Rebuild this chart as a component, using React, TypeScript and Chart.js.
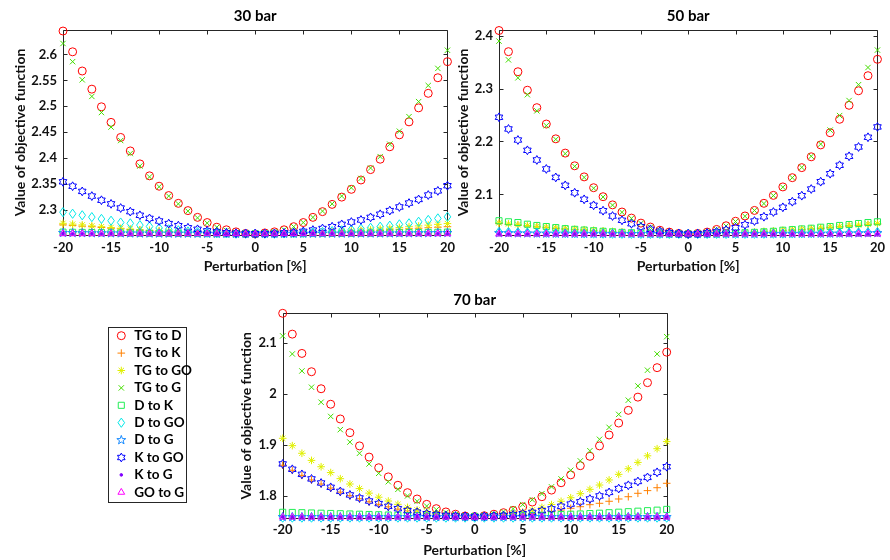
import React, { useEffect, useRef } from 'react';
import { Chart, registerables } from 'chart.js';
import { drawPoint } from 'chart.js/helpers';

Chart.register(...registerables);

// ---------------- data ----------------
const perturbation = [-20, -19, -18, -17, -16, -15, -14, -13, -12, -11, -10, -9, -8, -7, -6, -5, -4, -3, -2, -1, 0, 1, 2, 3, 4, 5, 6, 7, 8, 9, 10, 11, 12, 13, 14, 15, 16, 17, 18, 19, 20];
const xTicks = [-20, -15, -10, -5, 0, 5, 10, 15, 20];
const yTicks30 = [2.3, 2.35, 2.4, 2.45, 2.5, 2.55, 2.6];
const yTicks50 = [2.1, 2.2, 2.3, 2.4];
const yTicks70 = [1.8, 1.9, 2, 2.1];
const seriesNames = ['TG to D', 'TG to K', 'TG to GO', 'TG to G', 'D to K', 'D to GO', 'D to G', 'K to GO', 'K to G', 'GO to G'];

// 30 bar
const tgD30 = [2.645, 2.605, 2.568, 2.533, 2.499, 2.469, 2.440, 2.414, 2.389, 2.366, 2.346, 2.328, 2.313, 2.299, 2.286, 2.276, 2.267, 2.262, 2.258, 2.255, 2.254, 2.256, 2.258, 2.262, 2.268, 2.276, 2.286, 2.297, 2.311, 2.325, 2.340, 2.358, 2.378, 2.398, 2.422, 2.445, 2.470, 2.497, 2.525, 2.555, 2.586];
const tgK30 = [2.2715, 2.2705, 2.269, 2.268, 2.2665, 2.265, 2.264, 2.2625, 2.2615, 2.2605, 2.2595, 2.2585, 2.2575, 2.257, 2.2562, 2.2556, 2.2552, 2.255, 2.2547, 2.2545, 2.2545, 2.2545, 2.2547, 2.255, 2.2552, 2.2555, 2.256, 2.2565, 2.257, 2.2578, 2.2585, 2.2592, 2.26, 2.261, 2.262, 2.263, 2.264, 2.265, 2.266, 2.267, 2.268];
const tgGO30 = [2.2745, 2.273, 2.2715, 2.2695, 2.268, 2.2665, 2.265, 2.2635, 2.262, 2.261, 2.26, 2.259, 2.258, 2.257, 2.2562, 2.2556, 2.2552, 2.255, 2.2547, 2.2545, 2.2545, 2.2545, 2.2547, 2.255, 2.2552, 2.2556, 2.2562, 2.257, 2.258, 2.259, 2.26, 2.261, 2.262, 2.2635, 2.265, 2.2665, 2.268, 2.2695, 2.271, 2.2725, 2.274];
const tgG30 = [2.621, 2.586, 2.551, 2.519, 2.488, 2.460, 2.434, 2.409, 2.385, 2.364, 2.345, 2.327, 2.312, 2.298, 2.285, 2.275, 2.267, 2.261, 2.257, 2.255, 2.254, 2.255, 2.258, 2.262, 2.268, 2.276, 2.286, 2.298, 2.312, 2.327, 2.343, 2.361, 2.381, 2.403, 2.427, 2.452, 2.480, 2.509, 2.540, 2.573, 2.608];
const dK30 = [2.2575, 2.2572, 2.257, 2.2567, 2.2565, 2.2562, 2.256, 2.2558, 2.2556, 2.2554, 2.2552, 2.2551, 2.255, 2.2549, 2.2548, 2.2547, 2.2546, 2.2546, 2.2545, 2.2545, 2.2545, 2.2545, 2.2545, 2.2546, 2.2546, 2.2547, 2.2548, 2.2549, 2.255, 2.2551, 2.2552, 2.2554, 2.2556, 2.2558, 2.256, 2.2562, 2.2565, 2.2567, 2.257, 2.2572, 2.2575];
const dGO30 = [2.296, 2.293, 2.290, 2.2865, 2.283, 2.2795, 2.276, 2.2745, 2.271, 2.2685, 2.2655, 2.263, 2.261, 2.259, 2.2575, 2.2565, 2.2555, 2.255, 2.2545, 2.2545, 2.2545, 2.2545, 2.2545, 2.255, 2.2555, 2.256, 2.257, 2.258, 2.2595, 2.261, 2.2625, 2.264, 2.266, 2.268, 2.270, 2.2725, 2.2745, 2.2775, 2.281, 2.284, 2.287];
const dG30 = [2.256, 2.2558, 2.2556, 2.2555, 2.2554, 2.2553, 2.2552, 2.2551, 2.255, 2.255, 2.2549, 2.2548, 2.2547, 2.2547, 2.2546, 2.2546, 2.2545, 2.2545, 2.2545, 2.2545, 2.2545, 2.2545, 2.2545, 2.2545, 2.2545, 2.2546, 2.2546, 2.2547, 2.2547, 2.2548, 2.2549, 2.255, 2.255, 2.2551, 2.2552, 2.2553, 2.2554, 2.2555, 2.2556, 2.2558, 2.256];
const kGO30 = [2.3545, 2.346, 2.336, 2.327, 2.319, 2.312, 2.304, 2.297, 2.290, 2.284, 2.279, 2.274, 2.270, 2.266, 2.263, 2.260, 2.258, 2.2565, 2.2555, 2.255, 2.2545, 2.2547, 2.255, 2.256, 2.257, 2.259, 2.2615, 2.2645, 2.268, 2.2725, 2.277, 2.281, 2.286, 2.292, 2.299, 2.306, 2.3135, 2.3205, 2.329, 2.337, 2.347];
const kG30 = [2.2545, 2.2545, 2.2545, 2.2545, 2.2545, 2.2545, 2.2545, 2.2545, 2.2545, 2.2545, 2.2545, 2.2545, 2.2545, 2.2545, 2.2545, 2.2545, 2.2545, 2.2545, 2.2545, 2.2545, 2.2545, 2.2545, 2.2545, 2.2545, 2.2545, 2.2545, 2.2545, 2.2545, 2.2545, 2.2545, 2.2545, 2.2545, 2.2545, 2.2545, 2.2545, 2.2545, 2.2545, 2.2545, 2.2545, 2.2545, 2.2545];
const goG30 = [2.2544, 2.2544, 2.2544, 2.2544, 2.2544, 2.2544, 2.2544, 2.2544, 2.2544, 2.2544, 2.2544, 2.2544, 2.2544, 2.2544, 2.2544, 2.2544, 2.2544, 2.2544, 2.2544, 2.2544, 2.2544, 2.2544, 2.2544, 2.2544, 2.2544, 2.2544, 2.2544, 2.2544, 2.2544, 2.2544, 2.2544, 2.2544, 2.2544, 2.2544, 2.2544, 2.2544, 2.2544, 2.2544, 2.2544, 2.2544, 2.2544];

// 50 bar
const tgD50 = [2.410, 2.370, 2.332, 2.297, 2.264, 2.233, 2.205, 2.178, 2.154, 2.133, 2.1125, 2.0955, 2.080, 2.0665, 2.055, 2.0455, 2.038, 2.032, 2.0285, 2.026, 2.025, 2.026, 2.0285, 2.0335, 2.0405, 2.049, 2.059, 2.0695, 2.083, 2.098, 2.114, 2.1315, 2.1505, 2.171, 2.1935, 2.2165, 2.242, 2.2685, 2.296, 2.3245, 2.3555];
const tgK50 = [2.0445, 2.0428, 2.0413, 2.0398, 2.0383, 2.0368, 2.0354, 2.0341, 2.033, 2.032, 2.031, 2.030, 2.029, 2.028, 2.0272, 2.0265, 2.0259, 2.0255, 2.0252, 2.025, 2.025, 2.025, 2.0252, 2.0255, 2.0259, 2.0265, 2.0272, 2.028, 2.029, 2.030, 2.031, 2.032, 2.033, 2.0341, 2.0354, 2.0368, 2.0383, 2.0398, 2.041, 2.0422, 2.0435];
const tgGO50 = [2.046, 2.044, 2.0425, 2.041, 2.0395, 2.038, 2.0365, 2.035, 2.034, 2.033, 2.032, 2.031, 2.030, 2.029, 2.028, 2.027, 2.0263, 2.0257, 2.0253, 2.025, 2.025, 2.025, 2.0253, 2.0257, 2.0263, 2.027, 2.028, 2.029, 2.030, 2.031, 2.032, 2.033, 2.034, 2.035, 2.0365, 2.038, 2.0395, 2.041, 2.042, 2.0435, 2.045];
const tgG50 = [2.390, 2.3545, 2.3205, 2.2885, 2.258, 2.230, 2.204, 2.177, 2.153, 2.132, 2.1115, 2.095, 2.0795, 2.066, 2.0545, 2.045, 2.0375, 2.0315, 2.028, 2.0258, 2.025, 2.026, 2.0285, 2.033, 2.040, 2.0485, 2.0585, 2.0695, 2.0825, 2.0975, 2.1135, 2.1315, 2.151, 2.172, 2.195, 2.2215, 2.249, 2.2775, 2.3075, 2.340, 2.373];
const dK50 = [2.050, 2.048, 2.0466, 2.0434, 2.041, 2.039, 2.037, 2.035, 2.0337, 2.0324, 2.031, 2.030, 2.029, 2.028, 2.0272, 2.0265, 2.026, 2.0255, 2.0252, 2.025, 2.025, 2.025, 2.0252, 2.0255, 2.026, 2.0265, 2.0272, 2.028, 2.029, 2.030, 2.032, 2.0332, 2.0345, 2.0358, 2.0377, 2.039, 2.041, 2.0428, 2.0447, 2.0466, 2.048];
const dGO50 = [2.029, 2.0286, 2.0282, 2.0278, 2.0274, 2.027, 2.0267, 2.0264, 2.0261, 2.0259, 2.0257, 2.0255, 2.0254, 2.0253, 2.0252, 2.0251, 2.025, 2.025, 2.025, 2.025, 2.025, 2.025, 2.025, 2.025, 2.025, 2.0251, 2.0252, 2.0253, 2.0254, 2.0255, 2.0257, 2.0259, 2.0261, 2.0264, 2.0267, 2.027, 2.0273, 2.0276, 2.0279, 2.0282, 2.0285];
const dG50 = [2.0266, 2.0264, 2.0262, 2.026, 2.0258, 2.0257, 2.0256, 2.0255, 2.0254, 2.0253, 2.0252, 2.0252, 2.0251, 2.0251, 2.025, 2.025, 2.025, 2.025, 2.025, 2.025, 2.025, 2.025, 2.025, 2.025, 2.025, 2.025, 2.025, 2.0251, 2.0251, 2.0252, 2.0252, 2.0253, 2.0254, 2.0255, 2.0256, 2.0257, 2.0258, 2.026, 2.0262, 2.0264, 2.0266];
const kGO50 = [2.2458, 2.2237, 2.2028, 2.1833, 2.165, 2.148, 2.132, 2.117, 2.103, 2.0905, 2.0792, 2.069, 2.0589, 2.0508, 2.0443, 2.0387, 2.0337, 2.030, 2.0275, 2.026, 2.025, 2.0255, 2.027, 2.029, 2.0324, 2.0367, 2.0424, 2.0494, 2.0576, 2.0665, 2.0754, 2.086, 2.0974, 2.110, 2.1239, 2.139, 2.155, 2.172, 2.1896, 2.208, 2.2275];
const kG50 = [2.025, 2.025, 2.025, 2.025, 2.025, 2.025, 2.025, 2.025, 2.025, 2.025, 2.025, 2.025, 2.025, 2.025, 2.025, 2.025, 2.025, 2.025, 2.025, 2.025, 2.025, 2.025, 2.025, 2.025, 2.025, 2.025, 2.025, 2.025, 2.025, 2.025, 2.025, 2.025, 2.025, 2.025, 2.025, 2.025, 2.025, 2.025, 2.025, 2.025, 2.025];
const goG50 = [2.0248, 2.0248, 2.0248, 2.0248, 2.0248, 2.0248, 2.0248, 2.0248, 2.0248, 2.0248, 2.0248, 2.0248, 2.0248, 2.0248, 2.0248, 2.0248, 2.0248, 2.0248, 2.0248, 2.0248, 2.0248, 2.0248, 2.0248, 2.0248, 2.0248, 2.0248, 2.0248, 2.0248, 2.0248, 2.0248, 2.0248, 2.0248, 2.0248, 2.0248, 2.0248, 2.0248, 2.0248, 2.0248, 2.0248, 2.0248, 2.0248];

// 70 bar
const tgD70 = [2.159, 2.118, 2.080, 2.044, 2.0105, 1.980, 1.951, 1.924, 1.898, 1.876, 1.855, 1.837, 1.8205, 1.806, 1.7935, 1.783, 1.7745, 1.768, 1.7635, 1.760, 1.759, 1.7605, 1.7635, 1.7665, 1.771, 1.778, 1.7875, 1.798, 1.811, 1.8255, 1.841, 1.859, 1.8775, 1.898, 1.9195, 1.943, 1.968, 1.994, 2.0225, 2.052, 2.0825];
const tgK70 = [1.860, 1.850, 1.840, 1.831, 1.823, 1.815, 1.807, 1.800, 1.794, 1.788, 1.783, 1.778, 1.7735, 1.770, 1.767, 1.7645, 1.7625, 1.761, 1.760, 1.7595, 1.759, 1.7592, 1.7598, 1.761, 1.762, 1.763, 1.765, 1.767, 1.769, 1.7718, 1.7752, 1.7783, 1.7823, 1.785, 1.789, 1.7935, 1.798, 1.8047, 1.810, 1.8157, 1.8244];
const tgGO70 = [1.913, 1.8985, 1.8835, 1.8695, 1.857, 1.8455, 1.8335, 1.823, 1.814, 1.805, 1.797, 1.7895, 1.783, 1.777, 1.772, 1.768, 1.765, 1.763, 1.761, 1.760, 1.7595, 1.760, 1.761, 1.763, 1.765, 1.768, 1.772, 1.777, 1.7825, 1.789, 1.796, 1.804, 1.8125, 1.821, 1.831, 1.842, 1.853, 1.8655, 1.8785, 1.8925, 1.9065];
const tgG70 = [2.1145, 2.079, 2.0455, 2.0135, 1.984, 1.956, 1.930, 1.9055, 1.8835, 1.8625, 1.844, 1.8275, 1.8125, 1.7995, 1.789, 1.7795, 1.7725, 1.767, 1.763, 1.7605, 1.7595, 1.761, 1.764, 1.768, 1.7745, 1.7825, 1.792, 1.804, 1.8175, 1.833, 1.850, 1.8685, 1.8885, 1.911, 1.9345, 1.960, 1.988, 2.016, 2.047, 2.079, 2.113];
const dK70 = [1.7673, 1.767, 1.7665, 1.766, 1.7655, 1.765, 1.7645, 1.764, 1.7635, 1.763, 1.7625, 1.762, 1.7615, 1.761, 1.7605, 1.760, 1.7598, 1.7595, 1.7592, 1.759, 1.759, 1.759, 1.7592, 1.7595, 1.760, 1.7605, 1.761, 1.7615, 1.762, 1.763, 1.7635, 1.764, 1.7648, 1.7655, 1.7665, 1.7675, 1.7685, 1.7695, 1.7705, 1.7715, 1.773];
const dGO70 = [1.7568, 1.7568, 1.7568, 1.7568, 1.7568, 1.7568, 1.7568, 1.7568, 1.7568, 1.7568, 1.7568, 1.7568, 1.7568, 1.7568, 1.7568, 1.7568, 1.7568, 1.7568, 1.7568, 1.7568, 1.7568, 1.7568, 1.7568, 1.7568, 1.7568, 1.7568, 1.7568, 1.7568, 1.7568, 1.7568, 1.7568, 1.7568, 1.7568, 1.7568, 1.7568, 1.7568, 1.7568, 1.7568, 1.7568, 1.7568, 1.7568];
const dG70 = [1.758, 1.758, 1.758, 1.758, 1.758, 1.758, 1.758, 1.758, 1.758, 1.758, 1.758, 1.758, 1.758, 1.758, 1.758, 1.758, 1.758, 1.758, 1.758, 1.758, 1.758, 1.758, 1.758, 1.758, 1.758, 1.758, 1.758, 1.758, 1.758, 1.758, 1.758, 1.758, 1.758, 1.758, 1.758, 1.758, 1.758, 1.758, 1.758, 1.758, 1.758];
const kGO70 = [1.8625, 1.852, 1.842, 1.833, 1.825, 1.8165, 1.8085, 1.8015, 1.7955, 1.7895, 1.7845, 1.779, 1.7745, 1.7705, 1.7675, 1.7645, 1.7625, 1.761, 1.760, 1.7595, 1.759, 1.7595, 1.760, 1.761, 1.7625, 1.7645, 1.767, 1.7705, 1.774, 1.779, 1.7835, 1.788, 1.7935, 1.7995, 1.8065, 1.814, 1.8205, 1.828, 1.836, 1.846, 1.857];
const kG70 = [1.758, 1.758, 1.758, 1.758, 1.758, 1.758, 1.758, 1.758, 1.758, 1.758, 1.758, 1.758, 1.758, 1.758, 1.758, 1.758, 1.758, 1.758, 1.758, 1.758, 1.758, 1.758, 1.758, 1.758, 1.758, 1.758, 1.758, 1.758, 1.758, 1.758, 1.758, 1.758, 1.758, 1.758, 1.758, 1.758, 1.758, 1.758, 1.758, 1.758, 1.758];
const goG70 = [1.7578, 1.7578, 1.7578, 1.7578, 1.7578, 1.7578, 1.7578, 1.7578, 1.7578, 1.7578, 1.7578, 1.7578, 1.7578, 1.7578, 1.7578, 1.7578, 1.7578, 1.7578, 1.7578, 1.7578, 1.7578, 1.7578, 1.7578, 1.7578, 1.7578, 1.7578, 1.7578, 1.7578, 1.7578, 1.7578, 1.7578, 1.7578, 1.7578, 1.7578, 1.7578, 1.7578, 1.7578, 1.7578, 1.7578, 1.7578, 1.7578];

// ---------------- styles ----------------
const FONT = 'Lato';
const TEXT = '#111111';
const AXIS = '#262626';

type SeriesStyle = { color: string; style: string; radius: number; fill?: boolean; custom?: string };

const seriesStyles: SeriesStyle[] = [
  { color: '#ff0000', style: 'circle', radius: 4 },
  { color: '#ff8000', style: 'cross', radius: 3.8 },
  { color: '#e0f000', style: 'star', radius: 3.8 },
  { color: '#44dd00', style: 'crossRot', radius: 3.8 },
  { color: '#22ee55', style: 'rect', radius: 4.3 },
  { color: '#00e8e8', style: 'circle', radius: 0, custom: 'diamond' },
  { color: '#1a8cff', style: 'circle', radius: 0, custom: 'pentagram' },
  { color: '#0000ff', style: 'circle', radius: 0, custom: 'hexagram' },
  { color: '#8000ff', style: 'circle', radius: 1.3, fill: true },
  { color: '#ff00ff', style: 'triangle', radius: 3.9 },
];

function drawCustom(ctx: CanvasRenderingContext2D, kind: string, x: number, y: number, color: string) {
  ctx.save();
  ctx.strokeStyle = color;
  ctx.lineWidth = 1;
  ctx.beginPath();
  if (kind === 'diamond') {
    ctx.moveTo(x, y - 4.6);
    ctx.lineTo(x + 3.3, y);
    ctx.lineTo(x, y + 4.6);
    ctx.lineTo(x - 3.3, y);
  } else {
    const n = kind === 'pentagram' ? 5 : 6;
    const R = kind === 'pentagram' ? 4.7 : 4.4;
    const r = kind === 'pentagram' ? R * 0.4 : R * 0.577;
    for (let k = 0; k < 2 * n; k++) {
      const a = -Math.PI / 2 + (k * Math.PI) / n;
      const rad = k % 2 === 0 ? R : r;
      const px = x + rad * Math.cos(a);
      const py = y + rad * Math.sin(a);
      if (k === 0) ctx.moveTo(px, py);
      else ctx.lineTo(px, py);
    }
  }
  ctx.closePath();
  ctx.stroke();
  ctx.restore();
}

const customMarkerPlugin = {
  id: 'customMarkers',
  afterDatasetDraw(chart: any, args: any) {
    const st = seriesStyles[args.index];
    if (!st || !st.custom) return;
    for (const el of args.meta.data) {
      drawCustom(chart.ctx, st.custom, el.x, el.y, st.color);
    }
  },
};

const boxPlugin = {
  id: 'matlabBox',
  beforeDatasetsDraw(chart: any) {
    const { ctx, chartArea } = chart;
    const { left, right, top, bottom } = chartArea;
    const xs = chart.scales.x;
    const ys = chart.scales.y;
    const L = 4;
    const snap = (v: number) => Math.round(v) + 0.5;
    ctx.save();
    ctx.strokeStyle = AXIS;
    ctx.lineWidth = 1;
    ctx.beginPath();
    const l = snap(left), r = snap(right), t = snap(top), b = snap(bottom);
    ctx.rect(l, t, r - l, b - t);
    for (const tk of xs.ticks) {
      const p = snap(xs.getPixelForValue(tk.value));
      ctx.moveTo(p, b);
      ctx.lineTo(p, b - L);
      ctx.moveTo(p, t);
      ctx.lineTo(p, t + L);
    }
    for (const tk of ys.ticks) {
      const p = snap(ys.getPixelForValue(tk.value));
      ctx.moveTo(l, p);
      ctx.lineTo(l + L, p);
      ctx.moveTo(r, p);
      ctx.lineTo(r - L, p);
    }
    ctx.stroke();
    ctx.restore();
  },
};

const legendPlugin = {
  id: 'boxLegend',
  afterDraw(chart: any) {
    const ctx = chart.ctx;
    ctx.save();
    const bx = 8.5, by = 42.5, bw = 78, bh = 175;
    ctx.fillStyle = '#ffffff';
    ctx.fillRect(bx, by, bw, bh);
    ctx.strokeStyle = AXIS;
    ctx.lineWidth = 1;
    ctx.strokeRect(bx, by, bw, bh);
    seriesNames.forEach((name, i) => {
      const y = 50.7 + i * 17.4;
      const st = seriesStyles[i];
      if (st.custom) {
        drawCustom(ctx, st.custom, 21.3, y, st.color);
      } else {
        ctx.strokeStyle = st.color;
        ctx.fillStyle = st.fill ? st.color : 'rgba(0,0,0,0)';
        ctx.lineWidth = 1;
        drawPoint(ctx, { pointStyle: st.style, radius: st.radius, rotation: 0, borderWidth: 1 } as any, 21.3, y);
      }
      ctx.fillStyle = '#000000';
      ctx.font = `bold 13.5px ${FONT}`;
      ctx.textBaseline = 'middle';
      ctx.textAlign = 'left';
      ctx.fillText(name, 34.3, y);
    });
    ctx.restore();
  },
};

type PanelSpec = {
  title: string;
  values: number[][];
  yMin: number;
  yMax: number;
  yTicks: number[];
  left: number;
  top: number;
  width: number;
  height: number;
  padLeft: number;
  padRight: number;
  yWidth: number;
  xHeight: number;
  titlePad: { top: number; bottom: number };
  yTitlePad: number;
  xTitlePad: number;
  yTickPad: number;
  xTickPad: number;
  legend: boolean;
};

const fmt = (v: any) => String(+(+v).toFixed(3));

function buildConfig(spec: PanelSpec): any {
  const datasets = spec.values.map((vals, i) => {
    const st = seriesStyles[i];
    return {
      label: seriesNames[i],
      data: perturbation.map((x, j) => ({ x, y: vals[j] })),
      showLine: false,
      pointStyle: st.style,
      pointRadius: st.radius,
      pointHoverRadius: st.radius,
      pointBorderColor: st.color,
      pointBackgroundColor: st.fill ? st.color : 'rgba(0,0,0,0)',
      pointBorderWidth: 1,
      clip: false,
      order: spec.values.length - i,
    };
  });
  const tickFont = { family: FONT, size: 13, weight: 'bold' as const };
  const axisTitleFont = { family: FONT, size: 14, weight: 'bold' as const };
  const titleFont = { family: FONT, size: 15, weight: 'bold' as const };
  return {
    type: 'scatter',
    data: { datasets },
    plugins: spec.legend ? [boxPlugin, customMarkerPlugin, legendPlugin] : [boxPlugin, customMarkerPlugin],
    options: {
      responsive: false,
      animation: false,
      events: [],
      layout: { padding: { left: spec.padLeft, right: spec.padRight, top: 0, bottom: 0 } },
      plugins: {
        legend: { display: false },
        tooltip: { enabled: false },
        title: {
          display: true,
          text: spec.title,
          fullSize: false,
          color: '#000000',
          font: titleFont,
          padding: spec.titlePad,
        },
      },
      scales: {
        x: {
          type: 'linear',
          min: -20,
          max: 20,
          afterBuildTicks: (sc: any) => {
            sc.ticks = xTicks.map((v) => ({ value: v }));
          },
          afterFit: (sc: any) => {
            sc.height = spec.xHeight;
          },
          grid: { display: false, drawTicks: false },
          border: { display: false },
          ticks: { padding: spec.xTickPad, font: tickFont, color: TEXT, callback: fmt, maxRotation: 0, autoSkip: false },
          title: { display: true, text: 'Perturbation [%]', font: axisTitleFont, color: TEXT, padding: { top: 0, bottom: spec.xTitlePad } },
        },
        y: {
          type: 'linear',
          min: spec.yMin,
          max: spec.yMax,
          afterBuildTicks: (sc: any) => {
            sc.ticks = spec.yTicks.map((v) => ({ value: v }));
          },
          afterFit: (sc: any) => {
            sc.width = spec.yWidth;
          },
          grid: { display: false, drawTicks: false },
          border: { display: false },
          ticks: { padding: spec.yTickPad, font: tickFont, color: TEXT, callback: fmt, autoSkip: false },
          title: { display: true, text: 'Value of objective function', font: axisTitleFont, color: TEXT, padding: { top: spec.yTitlePad, bottom: 0 } },
        },
      },
    },
  };
}

function Panel({ spec }: { spec: PanelSpec }) {
  const ref = useRef<HTMLCanvasElement>(null);
  useEffect(() => {
    const chart = new Chart(ref.current as HTMLCanvasElement, buildConfig(spec));
    return () => chart.destroy();
  }, []);
  return (
    <div style={{ position: 'absolute', left: spec.left, top: spec.top, width: spec.width, height: spec.height }}>
      <canvas ref={ref} width={spec.width} height={spec.height} style={{ width: spec.width, height: spec.height, display: 'block' }} />
    </div>
  );
}

const panel30: PanelSpec = {
  title: '30 bar',
  values: [tgD30, tgK30, tgGO30, tgG30, dK30, dGO30, dG30, kGO30, kG30, goG30],
  yMin: 2.252, yMax: 2.647, yTicks: yTicks30,
  left: 0, top: 0, width: 460, height: 275,
  padLeft: 0, padRight: 12, yWidth: 63, xHeight: 40,
  titlePad: { top: 6.8, bottom: 5.2 }, yTitlePad: 12.1, xTitlePad: 0, yTickPad: 6, xTickPad: 5,
  legend: false,
};

const panel50: PanelSpec = {
  title: '50 bar',
  values: [tgD50, tgK50, tgGO50, tgG50, dK50, dGO50, dG50, kGO50, kG50, goG50],
  yMin: 2.023, yMax: 2.411, yTicks: yTicks50,
  left: 440, top: 0, width: 450, height: 275,
  padLeft: 0, padRight: 5, yWidth: 59, xHeight: 40,
  titlePad: { top: 6.8, bottom: 5.2 }, yTitlePad: 14.9, xTitlePad: 0, yTickPad: 6, xTickPad: 5,
  legend: false,
};

const panel70: PanelSpec = {
  title: '70 bar',
  values: [tgD70, tgK70, tgGO70, tgG70, dK70, dGO70, dG70, kGO70, kG70, goG70],
  yMin: 1.7555, yMax: 2.159, yTicks: yTicks70,
  left: 100, top: 285, width: 590, height: 275,
  padLeft: 130, padRight: 23.3, yWidth: 52.7, xHeight: 41.7,
  titlePad: { top: 6, bottom: 4.3 }, yTitlePad: 7.6, xTitlePad: 1.6, yTickPad: 6, xTickPad: 4,
  legend: true,
};

export default function App() {
  return (
    <div style={{ position: 'absolute', left: 0, top: 0, width: 890, height: 560, background: '#ffffff', overflow: 'hidden' }}>
      <Panel spec={panel30} />
      <Panel spec={panel50} />
      <Panel spec={panel70} />
    </div>
  );
}
